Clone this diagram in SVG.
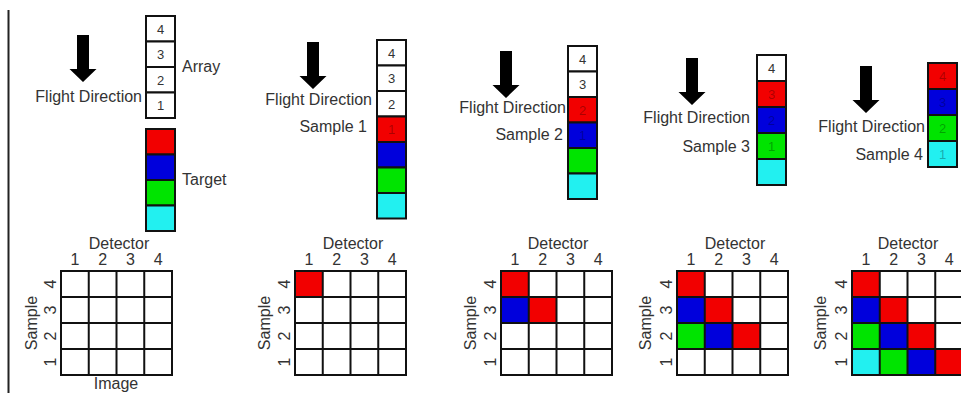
<svg xmlns="http://www.w3.org/2000/svg" xmlns:xlink="http://www.w3.org/1999/xlink" width="961" height="393" viewBox="0 0 961 393">
<style>
text{font-family:"Liberation Sans",Arial,sans-serif;fill:#333;font-size:16px}
.m{text-anchor:middle}
.e{text-anchor:end}
.d{font-size:13px;text-anchor:middle}
.dc{font-size:13px;text-anchor:middle;fill:#000;fill-opacity:0.3}
.cell{stroke:#111;stroke-width:2}
.w{fill:#fff}.r{fill:#f20000}.b{fill:#0000dc}.g{fill:#00e400}.c{fill:#22f0f0}
</style>
<defs>
<path id="arrow" d="M-6,0 H6 V34 H13.5 L0,47 L-13.5,34 H-6 Z" fill="#000"/>
<g id="grid" fill="none" stroke="#111" stroke-width="2">
<rect x="0" y="0" width="111" height="104"/>
<path d="M27.75,0V104M55.5,0V104M83.25,0V104M0,26H111M0,52H111M0,78H111"/>
</g>
</defs>
<rect width="961" height="393" fill="#fff"/>
<line x1="8.5" y1="10" x2="8.5" y2="393" stroke="#222" stroke-width="2"/>

<!-- Panel 1 -->
<g id="panel1">
<use xlink:href="#arrow" x="83" y="35"/>
<text x="142" y="102" class="e">Flight Direction</text>
<g id="array1">
<rect class="cell w" x="146" y="16" width="29" height="25.5"/>
<rect class="cell w" x="146" y="41.5" width="29" height="25.5"/>
<rect class="cell w" x="146" y="67" width="29" height="25.5"/>
<rect class="cell w" x="146" y="92.5" width="29" height="25.5"/>
<text class="d" x="160.5" y="33.5">4</text>
<text class="d" x="160.5" y="59">3</text>
<text class="d" x="160.5" y="84.5">2</text>
<text class="d" x="160.5" y="110">1</text>
</g>
<text x="182" y="72">Array</text>
<g id="target1">
<rect class="cell r" x="146" y="129" width="29" height="25.5"/>
<rect class="cell b" x="146" y="154.5" width="29" height="25.5"/>
<rect class="cell g" x="146" y="180" width="29" height="25.5"/>
<rect class="cell c" x="146" y="205.5" width="29" height="25.5"/>
</g>
<text x="182" y="185">Target</text>
<g id="grid1">
<use xlink:href="#grid" x="61" y="271"/>
<text class="m" x="119" y="249">Detector</text>
<text class="m" x="74.9" y="265">1</text><text class="m" x="102.6" y="265">2</text><text class="m" x="130.4" y="265">3</text><text class="m" x="158.1" y="265">4</text>
<text class="m" transform="translate(56,284) rotate(-90)">4</text>
<text class="m" transform="translate(56,310) rotate(-90)">3</text>
<text class="m" transform="translate(56,336) rotate(-90)">2</text>
<text class="m" transform="translate(56,362) rotate(-90)">1</text>
<text class="m" transform="translate(37,323) rotate(-90)">Sample</text>
<text class="m" x="116" y="389">Image</text>
</g>
</g>

<!-- Panel 2 -->
<g id="panel2">
<use xlink:href="#arrow" x="313" y="42"/>
<text x="372" y="105" class="e">Flight Direction</text>
<text x="367" y="132" class="e">Sample 1</text>
<g id="col2">
<rect class="cell w" x="377" y="40" width="29" height="25.5"/>
<rect class="cell w" x="377" y="65.5" width="29" height="25.5"/>
<rect class="cell w" x="377" y="91" width="29" height="25.5"/>
<rect class="cell r" x="377" y="116.5" width="29" height="25.5"/>
<rect class="cell b" x="377" y="142" width="29" height="25.5"/>
<rect class="cell g" x="377" y="167.5" width="29" height="25.5"/>
<rect class="cell c" x="377" y="193" width="29" height="25.5"/>
<text class="d" x="391.5" y="57.5">4</text>
<text class="d" x="391.5" y="83">3</text>
<text class="d" x="391.5" y="108.5">2</text>
<text class="dc" x="391.5" y="134">1</text>
</g>
<g id="grid2">
<rect class="r" x="295" y="271" width="27.75" height="26"/>
<use xlink:href="#grid" x="295" y="271"/>
<text class="m" x="353" y="249">Detector</text>
<text class="m" x="308.9" y="265">1</text><text class="m" x="336.6" y="265">2</text><text class="m" x="364.4" y="265">3</text><text class="m" x="392.1" y="265">4</text>
<text class="m" transform="translate(290,284) rotate(-90)">4</text>
<text class="m" transform="translate(290,310) rotate(-90)">3</text>
<text class="m" transform="translate(290,336) rotate(-90)">2</text>
<text class="m" transform="translate(290,362) rotate(-90)">1</text>
<text class="m" transform="translate(270,323) rotate(-90)">Sample</text>
</g>
</g>

<!-- Panel 3 -->
<g id="panel3">
<use xlink:href="#arrow" x="506" y="51"/>
<text x="566" y="113" class="e">Flight Direction</text>
<text x="563" y="140" class="e">Sample 2</text>
<g id="col3">
<rect class="cell w" x="568" y="46" width="29" height="25.5"/>
<rect class="cell w" x="568" y="71.5" width="29" height="25.5"/>
<rect class="cell r" x="568" y="97" width="29" height="25.5"/>
<rect class="cell b" x="568" y="122.5" width="29" height="25.5"/>
<rect class="cell g" x="568" y="148" width="29" height="25.5"/>
<rect class="cell c" x="568" y="173.5" width="29" height="25.5"/>
<text class="d" x="582.5" y="63.5">4</text>
<text class="d" x="582.5" y="89">3</text>
<text class="dc" x="582.5" y="114.5">2</text>
<text class="dc" x="582.5" y="140">1</text>
</g>
<g id="grid3">
<rect class="r" x="501" y="271" width="27.75" height="26"/>
<rect class="b" x="501" y="297" width="27.75" height="26"/>
<rect class="r" x="528.75" y="297" width="27.75" height="26"/>
<use xlink:href="#grid" x="501" y="271"/>
<text class="m" x="558" y="249">Detector</text>
<text class="m" x="514.9" y="265">1</text><text class="m" x="542.6" y="265">2</text><text class="m" x="570.4" y="265">3</text><text class="m" x="598.1" y="265">4</text>
<text class="m" transform="translate(496,284) rotate(-90)">4</text>
<text class="m" transform="translate(496,310) rotate(-90)">3</text>
<text class="m" transform="translate(496,336) rotate(-90)">2</text>
<text class="m" transform="translate(496,362) rotate(-90)">1</text>
<text class="m" transform="translate(476,323) rotate(-90)">Sample</text>
</g>
</g>

<!-- Panel 4 -->
<g id="panel4">
<use xlink:href="#arrow" x="692" y="58"/>
<text x="750" y="123" class="e">Flight Direction</text>
<text x="750" y="152" class="e">Sample 3</text>
<g id="col4">
<rect class="cell w" x="757" y="55" width="29" height="26"/>
<rect class="cell r" x="757" y="81" width="29" height="26"/>
<rect class="cell b" x="757" y="107" width="29" height="26"/>
<rect class="cell g" x="757" y="133" width="29" height="26"/>
<rect class="cell c" x="757" y="159" width="29" height="26"/>
<text class="d" x="771.5" y="72.5">4</text>
<text class="dc" x="771.5" y="98.5">3</text>
<text class="dc" x="771.5" y="124.5">2</text>
<text class="dc" x="771.5" y="150.5">1</text>
</g>
<g id="grid4">
<rect class="r" x="677" y="271" width="27.75" height="26"/>
<rect class="b" x="677" y="297" width="27.75" height="26"/>
<rect class="r" x="704.75" y="297" width="27.75" height="26"/>
<rect class="g" x="677" y="323" width="27.75" height="26"/>
<rect class="b" x="704.75" y="323" width="27.75" height="26"/>
<rect class="r" x="732.5" y="323" width="27.75" height="26"/>
<use xlink:href="#grid" x="677" y="271"/>
<text class="m" x="735" y="249">Detector</text>
<text class="m" x="690.9" y="265">1</text><text class="m" x="718.6" y="265">2</text><text class="m" x="746.4" y="265">3</text><text class="m" x="774.1" y="265">4</text>
<text class="m" transform="translate(672,284) rotate(-90)">4</text>
<text class="m" transform="translate(672,310) rotate(-90)">3</text>
<text class="m" transform="translate(672,336) rotate(-90)">2</text>
<text class="m" transform="translate(672,362) rotate(-90)">1</text>
<text class="m" transform="translate(651,323) rotate(-90)">Sample</text>
</g>
</g>

<!-- Panel 5 -->
<g id="panel5">
<use xlink:href="#arrow" x="866" y="66"/>
<text x="925" y="132" class="e">Flight Direction</text>
<text x="923" y="160" class="e">Sample 4</text>
<g id="col5">
<rect class="cell r" x="928" y="63" width="29" height="26"/>
<rect class="cell b" x="928" y="89" width="29" height="26"/>
<rect class="cell g" x="928" y="115" width="29" height="26"/>
<rect class="cell c" x="928" y="141" width="29" height="26"/>
<text class="dc" x="942.5" y="80.5">4</text>
<text class="dc" x="942.5" y="106.5">3</text>
<text class="dc" x="942.5" y="132.5">2</text>
<text class="dc" x="942.5" y="158.5">1</text>
</g>
<g id="grid5">
<rect class="r" x="852" y="271" width="27.75" height="26"/>
<rect class="b" x="852" y="297" width="27.75" height="26"/>
<rect class="r" x="879.75" y="297" width="27.75" height="26"/>
<rect class="g" x="852" y="323" width="27.75" height="26"/>
<rect class="b" x="879.75" y="323" width="27.75" height="26"/>
<rect class="r" x="907.5" y="323" width="27.75" height="26"/>
<rect class="c" x="852" y="349" width="27.75" height="26"/>
<rect class="g" x="879.75" y="349" width="27.75" height="26"/>
<rect class="b" x="907.5" y="349" width="27.75" height="26"/>
<rect class="r" x="935.25" y="349" width="27.75" height="26"/>
<use xlink:href="#grid" x="852" y="271"/>
<text class="m" x="908" y="249">Detector</text>
<text class="m" x="865.9" y="265">1</text><text class="m" x="893.6" y="265">2</text><text class="m" x="921.4" y="265">3</text><text class="m" x="949.1" y="265">4</text>
<text class="m" transform="translate(847,284) rotate(-90)">4</text>
<text class="m" transform="translate(847,310) rotate(-90)">3</text>
<text class="m" transform="translate(847,336) rotate(-90)">2</text>
<text class="m" transform="translate(847,362) rotate(-90)">1</text>
<text class="m" transform="translate(826,323) rotate(-90)">Sample</text>
</g>
</g>
</svg>
